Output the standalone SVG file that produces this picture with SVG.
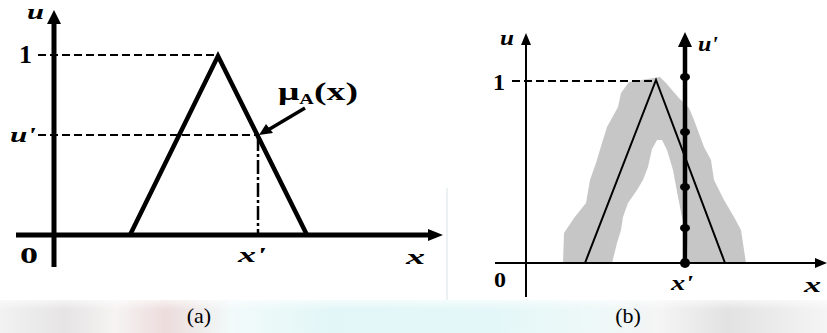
<svg xmlns="http://www.w3.org/2000/svg" width="827" height="333" viewBox="0 0 827 333">
  <defs>
    <linearGradient id="band" x1="0" y1="0" x2="1" y2="0">
      <stop offset="0" stop-color="#f2f2f2"/>
      <stop offset="0.08" stop-color="#e6e4e4"/>
      <stop offset="0.14" stop-color="#f6f3f3"/>
      <stop offset="0.2" stop-color="#eddcdc"/>
      <stop offset="0.28" stop-color="#f2fafa"/>
      <stop offset="0.4" stop-color="#e2f6f7"/>
      <stop offset="0.6" stop-color="#e4f7f8"/>
      <stop offset="0.72" stop-color="#eef8f8"/>
      <stop offset="0.8" stop-color="#f4f4f4"/>
      <stop offset="0.88" stop-color="#e2e2e2"/>
      <stop offset="1" stop-color="#f5f5f5"/>
    </linearGradient>
    <linearGradient id="fade" x1="0" y1="0" x2="0" y2="1">
      <stop offset="0" stop-color="#fff" stop-opacity="0.6"/>
      <stop offset="0.3" stop-color="#fff" stop-opacity="0"/>
    </linearGradient>
  </defs>
  <style>
    .lbl { font-family: "Liberation Serif", "DejaVu Serif", serif; font-weight: bold; font-style: italic; fill: #000; }
    .num { font-family: "Liberation Serif", "DejaVu Serif", serif; font-weight: bold; fill: #000; }
    .cap { font-family: "Liberation Serif", "Times New Roman", serif; font-size: 22px; fill: #000; }
    .axA { stroke: #000; stroke-width: 5; fill: none; }
    .thin { stroke: #000; stroke-width: 2; fill: none; }
    .dash { stroke: #000; stroke-width: 2; fill: none; stroke-dasharray: 8 4; }
  </style>
  <rect width="827" height="333" fill="#fff"/>
  <rect x="0" y="300" width="827" height="33" fill="url(#band)"/>
  <rect x="0" y="300" width="827" height="33" fill="url(#fade)"/>
  <line x1="447" y1="188" x2="447" y2="300" stroke="#e6ecef" stroke-width="1.5"/>

  <g id="panel-a">
    <g id="a-connectors">
      <line class="axA" x1="54" y1="267" x2="54" y2="20" stroke-width="6"/>
      <polygon points="54,10 47,24 61,24" fill="#000"/>
      <line class="axA" x1="16" y1="235" x2="430" y2="235"/>
      <polygon points="443,235 428,229 428,241" fill="#000"/>
      <line class="dash" x1="38" y1="55" x2="216" y2="55"/>
      <line class="dash" x1="38" y1="135" x2="258" y2="135"/>
      <line x1="258" y1="137" x2="258" y2="235" stroke="#000" stroke-width="2.5" stroke-dasharray="14 3 3 3"/>
      <polyline points="130,235 218,56 307,235" fill="none" stroke="#000" stroke-width="4.5" stroke-linejoin="miter"/>
      <line x1="305" y1="108" x2="268" y2="130" stroke="#000" stroke-width="3.5"/>
      <polygon points="259,135 266,124 273,133" fill="#000"/>
    </g>
    <g id="a-labels">
      <text class="lbl" x="27" y="19" font-size="20" textLength="17" lengthAdjust="spacingAndGlyphs">u</text>
      <text class="num" x="19" y="63" font-size="26">1</text>
      <text class="lbl" x="10" y="142" font-size="22" textLength="26" lengthAdjust="spacingAndGlyphs">u'</text>
      <text class="num" x="20" y="263" font-size="24" textLength="18" lengthAdjust="spacingAndGlyphs">0</text>
      <text class="lbl" x="238" y="262" font-size="22" textLength="28" lengthAdjust="spacingAndGlyphs">x'</text>
      <text class="lbl" x="406" y="264" font-size="22" textLength="19" lengthAdjust="spacingAndGlyphs">x</text>
      <text class="num" x="278" y="100" font-size="26" textLength="80" lengthAdjust="spacingAndGlyphs">μ<tspan font-size="14" dy="4">A</tspan><tspan dy="-4">(x)</tspan></text>
    </g>
  </g>

  <g id="panel-b">
    <polygon id="b-band" fill="#c6c6c6" points="563,263 564,233 574,218 586,203 590,180 596,163 602,143 607,127 618,107 621,93 629,82 660,77 666,83 678,97 689,108 694,120 704,147 711,160 714,180 724,200 734,217 741,230 744,250 746,263 688,263 687,237 682,217 678,197 673,170 667,150 662,140 657,140 652,149 648,167 643,180 637,190 628,203 623,217 621,230 617,243 612,263"/>
    <g id="b-connectors">
      <line class="thin" x1="526" y1="297" x2="526" y2="42"/>
      <polygon points="526,33 521,45 531,45" fill="#000"/>
      <line class="thin" x1="495" y1="263" x2="817" y2="263"/>
      <polygon points="827,263 815,258 815,268" fill="#000"/>
      <line class="dash" x1="512" y1="81" x2="655" y2="81"/>
      <polyline points="585,263 656,80 725,263" fill="none" stroke="#000" stroke-width="2"/>
      <line x1="685" y1="263" x2="685" y2="44" stroke="#000" stroke-width="4.5"/>
      <polygon points="685,32 678,47 692,47" fill="#000"/>
      <g fill="#000">
        <ellipse cx="685" cy="77" rx="5" ry="4"/>
        <ellipse cx="685" cy="132" rx="5" ry="4"/>
        <ellipse cx="685" cy="187" rx="5" ry="4"/>
        <ellipse cx="685" cy="228" rx="5" ry="4"/>
        <ellipse cx="685" cy="263" rx="5" ry="5"/>
      </g>
    </g>
    <g id="b-labels">
      <text class="lbl" x="500" y="45" font-size="20" textLength="14" lengthAdjust="spacingAndGlyphs">u</text>
      <text class="num" x="493" y="90" font-size="24">1</text>
      <text class="lbl" x="698" y="51" font-size="20" textLength="20" lengthAdjust="spacingAndGlyphs">u'</text>
      <text class="num" x="494" y="287" font-size="22" textLength="12" lengthAdjust="spacingAndGlyphs">0</text>
      <text class="lbl" x="671" y="290" font-size="20" textLength="22" lengthAdjust="spacingAndGlyphs">x'</text>
      <text class="lbl" x="804" y="292" font-size="20" textLength="17" lengthAdjust="spacingAndGlyphs">x</text>
    </g>
  </g>

  <g id="captions">
    <text class="cap" x="199" y="323" text-anchor="middle">(a)</text>
    <text class="cap" x="628" y="323" text-anchor="middle">(b)</text>
  </g>
</svg>
